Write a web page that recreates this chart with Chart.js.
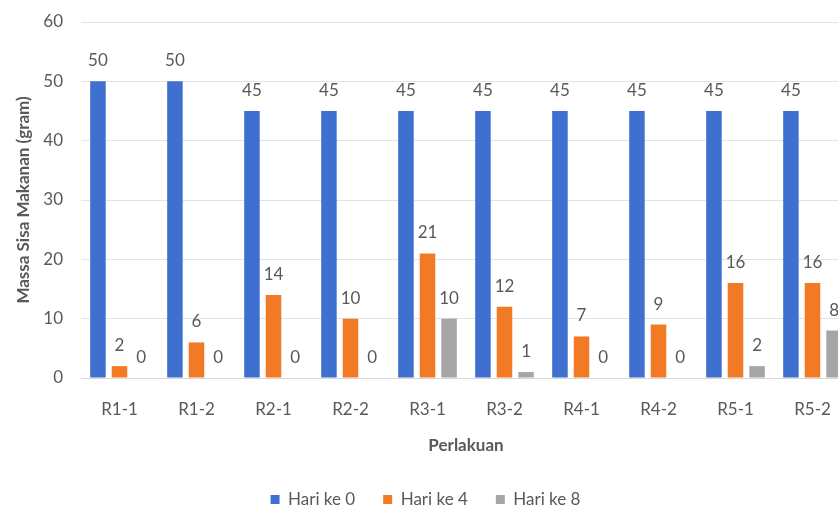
<!DOCTYPE html>
<html>
<head>
<meta charset="utf-8">
<script src="https://cdn.jsdelivr.net/npm/chart.js@4"></script>
<style>
  html, body { margin: 0; padding: 0; background: #fff; overflow: hidden; }
</style>
</head>
<body>
<canvas id="massaChart" width="866" height="509"></canvas>
<script>
const perlakuan = ["R1-1", "R1-2", "R2-1", "R2-2", "R3-1", "R3-2", "R4-1", "R4-2", "R5-1", "R5-2"];
const hariKe0 = [50, 50, 45, 45, 45, 45, 45, 45, 45, 45];
const hariKe4 = [2, 6, 14, 10, 21, 12, 7, 9, 16, 16];
const hariKe8 = [0, 0, 0, 0, 10, 1, 0, 0, 2, 8];

const textColor = "#595959";
const fontFamily = "Lato, 'Open Sans', sans-serif";

// values above each bar
const barLabels = {
    id: "barLabels",
    afterDatasetsDraw(chart) {
        const ctx = chart.ctx;
        ctx.save();
        ctx.fillStyle = textColor;
        ctx.font = "17px " + fontFamily;
        ctx.textAlign = "center";
        ctx.textBaseline = "bottom";
        chart.data.datasets.forEach((ds, i) => {
            chart.getDatasetMeta(i).data.forEach((bar, j) => {
                ctx.fillText(ds.data[j], bar.x, bar.y - 12);
            });
        });
        ctx.restore();
    }
};

const ctx = document.getElementById("massaChart").getContext("2d");
const massaChart = new Chart(ctx, {
    type: "bar",
    data: {
        labels: perlakuan,
        datasets: [
            { label: "Hari ke 0", data: hariKe0, backgroundColor: "#3F6FCF" },
            { label: "Hari ke 4", data: hariKe4, backgroundColor: "#F27A24" },
            { label: "Hari ke 8", data: hariKe8, backgroundColor: "#A5A5A5" }
        ]
    },
    options: {
        responsive: false,
        animation: false,
        categoryPercentage: 0.84,
        barPercentage: 0.72,
        layout: { padding: { left: 0, right: 15, top: 22, bottom: -9 } },
        plugins: {
            legend: {
                position: "bottom",
                labels: {
                    boxWidth: 9,
                    boxHeight: 9,
                    padding: 28,
                    color: textColor,
                    font: { family: fontFamily, size: 17 }
                }
            },
            tooltip: { enabled: false }
        },
        scales: {
            x: {
                grid: { display: false, drawTicks: false },
                border: { color: "#d9d9d9" },
                ticks: { color: textColor, padding: 21, font: { family: fontFamily, size: 17 } },
                title: {
                    display: true,
                    text: "Perlakuan",
                    color: textColor,
                    padding: { top: 0, bottom: 7 },
                    font: { family: fontFamily, size: 17, weight: "bold" }
                },
                afterFit: (scale) => { scale.height = 85; }
            },
            y: {
                min: 0,
                max: 60,
                grid: { color: "#e3e3e3", drawTicks: false },
                border: { display: false },
                ticks: { stepSize: 10, color: textColor, padding: 18, font: { family: fontFamily, size: 17 } },
                title: {
                    display: true,
                    text: "Massa Sisa Makanan (gram)",
                    color: textColor,
                    padding: { top: 13, bottom: 0 },
                    font: { family: fontFamily, size: 17, weight: "bold" }
                },
                afterFit: (scale) => {
                    scale.width = 81;
                    scale.paddingTop = 10;
                }
            }
        }
    },
    plugins: [barLabels]
});
</script>
</body>
</html>
